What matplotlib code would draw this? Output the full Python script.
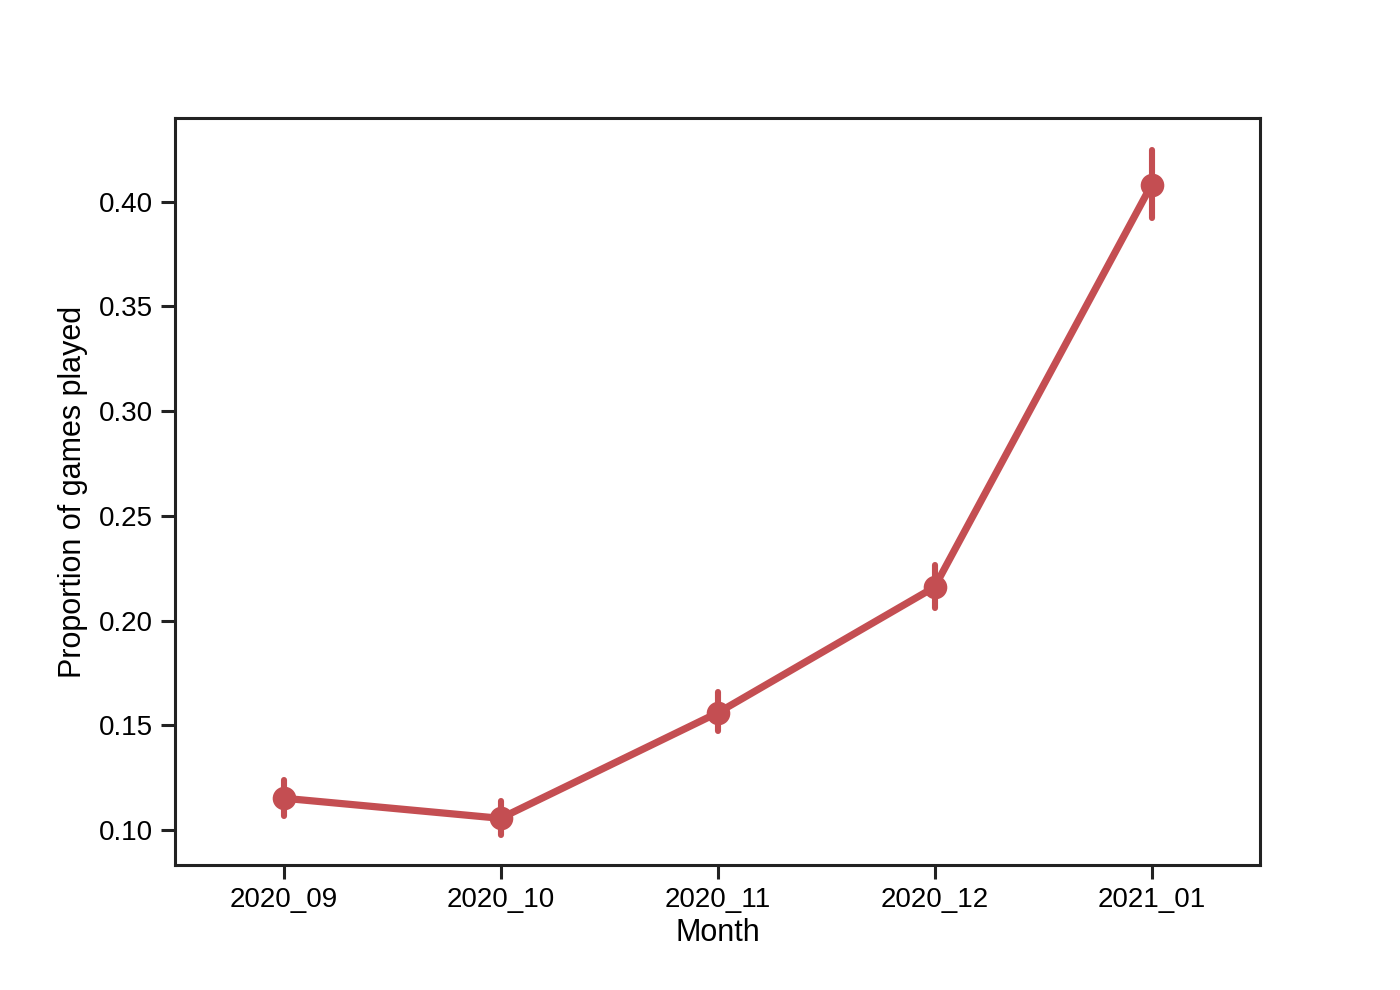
import matplotlib
matplotlib.use("Agg")
import matplotlib.pyplot as plt
import numpy as np

MONTHS = ["2020_09", "2020_10", "2020_11", "2020_12", "2021_01"]
PROPORTION = [0.1153, 0.1057, 0.1560, 0.2160, 0.4080]
CI_LOW = [0.1067, 0.0976, 0.1473, 0.2060, 0.3920]
CI_HIGH = [0.1239, 0.1138, 0.1660, 0.2265, 0.4244]

COLOR = "#C44E52"

plt.rcParams["font.family"] = ["Liberation Sans", "DejaVu Sans"]
plt.rcParams["font.size"] = 10

fig, ax = plt.subplots(figsize=(7, 4.95), dpi=200)
fig.subplots_adjust(left=0.125, right=0.9, bottom=0.126, top=0.881)

x = np.arange(len(MONTHS))
ax.vlines(x, CI_LOW, CI_HIGH, color=COLOR, linewidth=2.2, capstyle="round", zorder=2)
ax.plot(x, PROPORTION, color=COLOR, linewidth=2.6, marker="o", markersize=7.5,
        solid_capstyle="round", zorder=3)

ax.set_xlim(-0.5, 4.5)
ax.set_ylim(0.0833, 0.440)
ax.set_xticks(x)
ax.set_xticklabels(MONTHS)
ax.set_yticks(np.arange(0.10, 0.401, 0.05))
ax.set_yticklabels([f"{v:.2f}" for v in np.arange(0.10, 0.401, 0.05)])
ax.set_xlabel("Month", fontsize=11, labelpad=1.5)
ax.set_ylabel("Proportion of games played", fontsize=11, labelpad=4)

for s in ax.spines.values():
    s.set_linewidth(1.1)
    s.set_color("#222222")
ax.tick_params(axis="both", length=5, width=1.1, labelsize=10, color="#222222", pad=3)

fig.savefig("out.png", dpi=200)
